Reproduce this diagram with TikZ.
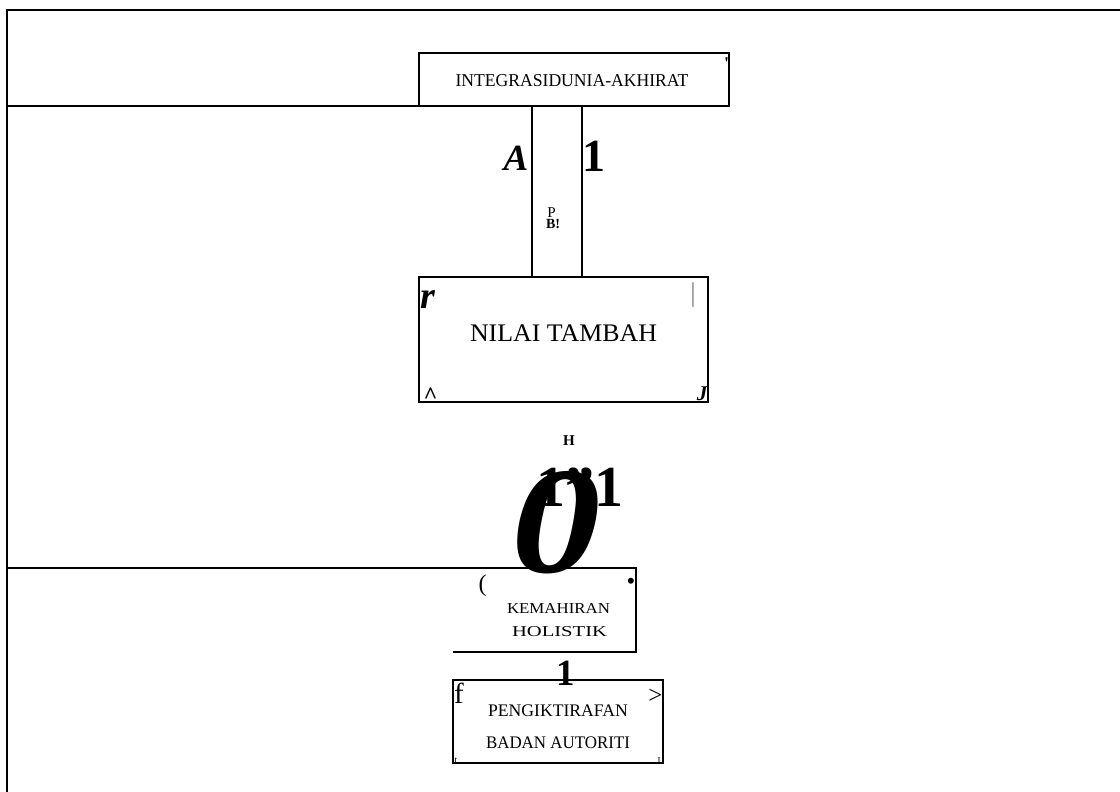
\documentclass[tikz,border=0pt]{standalone}
\usepackage{fontspec}
\setmainfont{Liberation Serif}
\usepackage{graphicx}
% caps text stretched to a given width and cap height (both in pt)
\newcommand\fitcaps[3]{\resizebox{#1pt}{#2pt}{\fontsize{20}{24}\selectfont #3}}
\newcommand\fs[1]{\fontsize{#1}{#1}\selectfont}
\begin{document}
\begin{tikzpicture}[x=1pt,y=-1pt,line width=1.3pt,
  box/.style={draw,inner sep=0pt,outer sep=0pt},
  lbl/.style={inner sep=0pt,outer sep=0pt,anchor=base}]
\useasboundingbox (0,0) rectangle (1120,792);

% outer frame
\coordinate (frameTL) at (7,10);
\coordinate (frameTR) at (1120,10);
\coordinate (frameBL) at (7,792);
\draw (frameTR) -- (frameTL) -- (frameBL);

% boxes
\node[box,minimum width=310pt,minimum height=53pt] (akhirat) at (574,79.5) {};
\node[box,minimum width=289pt,minimum height=125pt] (nilai) at (563.5,339.5) {};
\node[box,minimum width=210pt,minimum height=83pt] (badan) at (558,721.5) {};

% rule under the top box
\draw (akhirat.south east) -- (akhirat.south west -| frameTL);

% column between the top box and NILAI TAMBAH
\coordinate (colL) at (532,0);
\coordinate (colR) at (582,0);
\draw (akhirat.south -| colL) -- (nilai.north -| colL);
\draw (akhirat.south -| colR) -- (nilai.north -| colR);

% open box of KEMAHIRAN HOLISTIK
\coordinate (kNE) at (636,568);
\coordinate (kSE) at (636,652);
\coordinate (kSW) at (453,652);
\draw (kNE -| frameTL) -- (kNE) -- (kSE) -- (kSW);

% main texts
\node[lbl] (tAkhirat) at (572,86) {\fitcaps{233}{12}{INTEGRASIDUNIA-AKHIRAT}};
\node[lbl] (tNilai) at (563.5,341.7) {\fitcaps{187}{16.7}{NILAI TAMBAH}};
\node[lbl] (tKem) at (558.5,613) {\fitcaps{103}{10}{KEMAHIRAN}};
\node[lbl] (tHol) at (559.5,636) {\fitcaps{95}{10}{HOLISTIK}};
\node[lbl] (tPeng) at (558,716) {\fitcaps{140}{11.7}{PENGIKTIRAFAN}};
\node[lbl] (tBadan) at (558,748) {\fitcaps{144}{11.7}{BADAN AUTORITI}};

% stray marks
\node[lbl] (mQuote) at (726.5,70) {\fs{18}\bfseries\textquotesingle};
\node[lbl] (mA) at (516,170) {\fs{37}\bfseries\itshape A};
\node[lbl] (mOne) at (593.5,171) {\fs{46}\bfseries 1};
\node[lbl] (mP) at (551.5,217) {\fs{15}P};
\node[lbl] (mB) at (553,228) {\fs{14}\bfseries B!};
\node[lbl] (mR) at (427.5,308) {\fs{38}\bfseries\itshape r};
\node[lbl] (mBar) at (693,301) {\fs{27}\color{gray}|};
\node[lbl] (mHat) at (430.5,403) {\fs{24}\bfseries\^{}};
\node[lbl] (mJ) at (702,400) {\fs{21}\bfseries\itshape J};
\node[lbl] (mH) at (569,445) {\fs{15}\bfseries H};
\node[lbl] (mOnes) at (579.5,506) {\fs{58}\bfseries 1\symbol{34}1};
\node[lbl] (mZero) at (556,572) {\scalebox{1.18}[1]{\fs{152}\bfseries\itshape 0}};
\node[lbl] (mParen) at (482.5,591) {\fs{24}(};
\node[lbl] (mDot) at (631,588) {\fs{22}\bfseries •};
\node[lbl] (mOneB) at (565.5,685) {\fs{37}\bfseries 1};
\node[lbl] (mF) at (459,703) {\fs{29}f};
\node[lbl] (mGt) at (655.5,703) {\fs{25}>};
\node[lbl] (mT) at (456,763) {\fs{10}t};
\node[lbl] (mI) at (659,763) {\fs{9}I};
\end{tikzpicture}
\end{document}
